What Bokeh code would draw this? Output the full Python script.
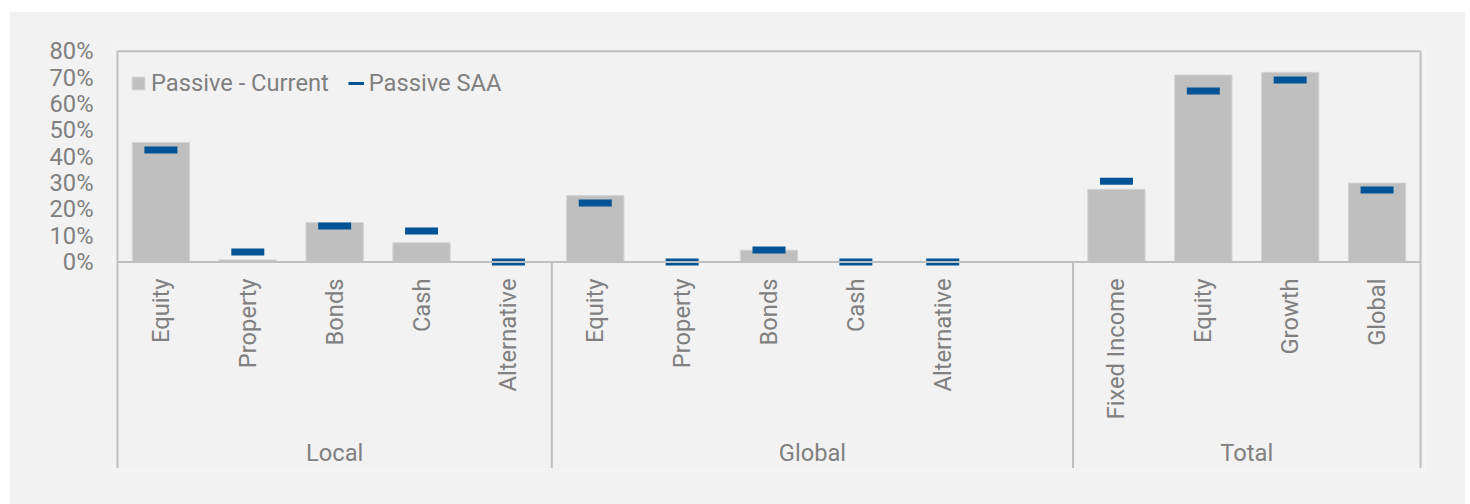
import math
from bokeh.plotting import figure
from bokeh.models import Range1d, FixedTicker, NumeralTickFormatter, Legend, LegendItem
from bokeh.core.properties import value
from bokeh.embed import file_html
from bokeh.resources import INLINE

# ---------------- data ----------------
groups = ["Local", "Global", "Total"]
local_cats = ["Equity", "Property", "Bonds", "Cash", "Alternative"]
global_cats = ["Equity", "Property", "Bonds", "Cash", "Alternative", ""]
total_cats = ["Fixed Income", "Equity", "Growth", "Global"]

local_current = [45.4, 0.8, 15.0, 7.3, 0.0]
local_saa = [42.5, 3.8, 13.7, 11.8, 0.0]
global_current = [25.2, 0.0, 4.5, 0.0, 0.0, None]
global_saa = [22.4, 0.0, 4.6, 0.0, 0.0, None]
total_current = [27.6, 71.0, 72.0, 30.0]
total_saa = [30.7, 64.9, 69.1, 27.3]

y_ticks = [0, 10, 20, 30, 40, 50, 60, 70, 80]
series_names = ["Passive - Current", "Passive SAA"]

# ---------------- styling / layout ----------------
BG = "#f2f2f2"
BAR = "#bfbfbf"
BAR_EDGE = "#d4d4d4"
SAA = "#005496"
AXIS = "#bfbfbf"
TXT = "#808080"
FONT = "Roboto"
FS = "23.7px"

W, H = 1456, 493
FRAME_L, FRAME_R, FRAME_T, FRAME_B = 104, 1415, 35, 460
LINE_L, LINE_R = 108, 1411          # inner frame lines (x = 0 and x = 15)
ZERO_Y = 250.5                      # pixel y of 0 %
PX_PER_UNIT = 263.4                 # pixels for 100 %

cat_lists = [local_cats, global_cats, total_cats]
cur_lists = [local_current, global_current, total_current]
saa_lists = [local_saa, global_saa, total_saa]

xs, labels, cur, saa = [], [], [], []
group_bounds = []
i = 0
for cats, cv, sv in zip(cat_lists, cur_lists, saa_lists):
    start = i
    for c, a, b in zip(cats, cv, sv):
        labels.append(c)
        xs.append(i + 0.5)
        cur.append(a)
        saa.append(b)
        i += 1
    group_bounds.append((start, i))
n_slots = i

slot_px = (LINE_R - LINE_L) / n_slots
x_start = -(LINE_L - FRAME_L) / slot_px
x_end = n_slots + (FRAME_R - LINE_R) / slot_px
y_end = (ZERO_Y - FRAME_T) / PX_PER_UNIT
y_start = -(FRAME_B - ZERO_Y) / PX_PER_UNIT

p = figure(width=W, height=H, output_backend="svg", toolbar_location=None,
           x_range=Range1d(x_start, x_end), y_range=Range1d(y_start, y_end),
           min_border_left=FRAME_L, min_border_right=W - FRAME_R,
           min_border_top=FRAME_T, min_border_bottom=H - FRAME_B,
           background_fill_color=BG, border_fill_color=BG,
           outline_line_color=None)
p.margin = (11, 5, 0, 9)
p.xaxis.visible = False
p.grid.visible = False

# bars and SAA markers
bx = [x for x, v in zip(xs, cur) if v is not None]
bv = [v / 100 for v in cur if v is not None]
sx = [x for x, v in zip(xs, saa) if v is not None]
sv = [v / 100 for v in saa if v is not None]

bars = p.vbar(x=bx, top=bv, bottom=0, width=0.66, fill_color=BAR,
              line_color=BAR_EDGE, line_width=1)
marks = p.rect(x=sx, y=sv, width=33, height=7, width_units="screen",
               height_units="screen", fill_color=SAA, line_color=None)

# axis frame lines
top_y = y_ticks[-1] / 100
bot_y = -(456.5 - ZERO_Y) / PX_PER_UNIT
seg_x0 = [0, 0, n_slots, 0]
seg_x1 = [n_slots, 0, n_slots, n_slots]
seg_y0 = [top_y, top_y, top_y, 0]
seg_y1 = [top_y, bot_y, bot_y, 0]
for s, e in group_bounds[1:]:
    seg_x0.append(s); seg_x1.append(s); seg_y0.append(0); seg_y1.append(bot_y)
p.segment(x0=seg_x0, y0=seg_y0, x1=seg_x1, y1=seg_y1, line_color=AXIS, line_width=2)

# category labels
lab_y = -(267 - ZERO_Y) / PX_PER_UNIT
p.text(x=xs, y=[lab_y] * len(xs), text=labels, angle=math.pi / 2,
       text_align="right", text_baseline="middle", text_font=value(FONT),
       text_font_size=FS, text_color=TXT)
grp_y = -(441.7 - ZERO_Y) / PX_PER_UNIT
gx = [(s + e) / 2 for s, e in group_bounds]
p.text(x=gx, y=[grp_y] * len(gx), text=groups, text_align="center",
       text_baseline="middle", text_font=value(FONT), text_font_size=FS,
       text_color=TXT)

# y axis
yax = p.yaxis[0]
yax.ticker = FixedTicker(ticks=[t / 100 for t in y_ticks])
yax.formatter = NumeralTickFormatter(format="0%")
yax.axis_line_color = None
yax.major_tick_line_color = None
yax.minor_tick_line_color = None
yax.major_tick_out = 0
yax.major_tick_in = 0
yax.major_label_standoff = 20
yax.major_label_text_font = FONT
yax.major_label_text_font_size = FS
yax.major_label_text_color = TXT

# legend: bars renderer for the square swatch, a legend-only line for the SAA dash
nan = float("nan")
saa_key = p.line(x=[nan], y=[nan], line_width=3, line_color=SAA)
legend = Legend(items=[LegendItem(label=series_names[0], renderers=[bars]),
                       LegendItem(label=series_names[1], renderers=[saa_key])],
                orientation="horizontal", location=(17, 374),
                padding=0, margin=0, spacing=19, label_standoff=5,
                glyph_width=16, glyph_height=16,
                border_line_color=None, background_fill_alpha=0,
                label_text_font=FONT, label_text_font_size=FS,
                label_text_color=TXT)
p.add_layout(legend)

open("out.html", "w").write(file_html(p, INLINE))
